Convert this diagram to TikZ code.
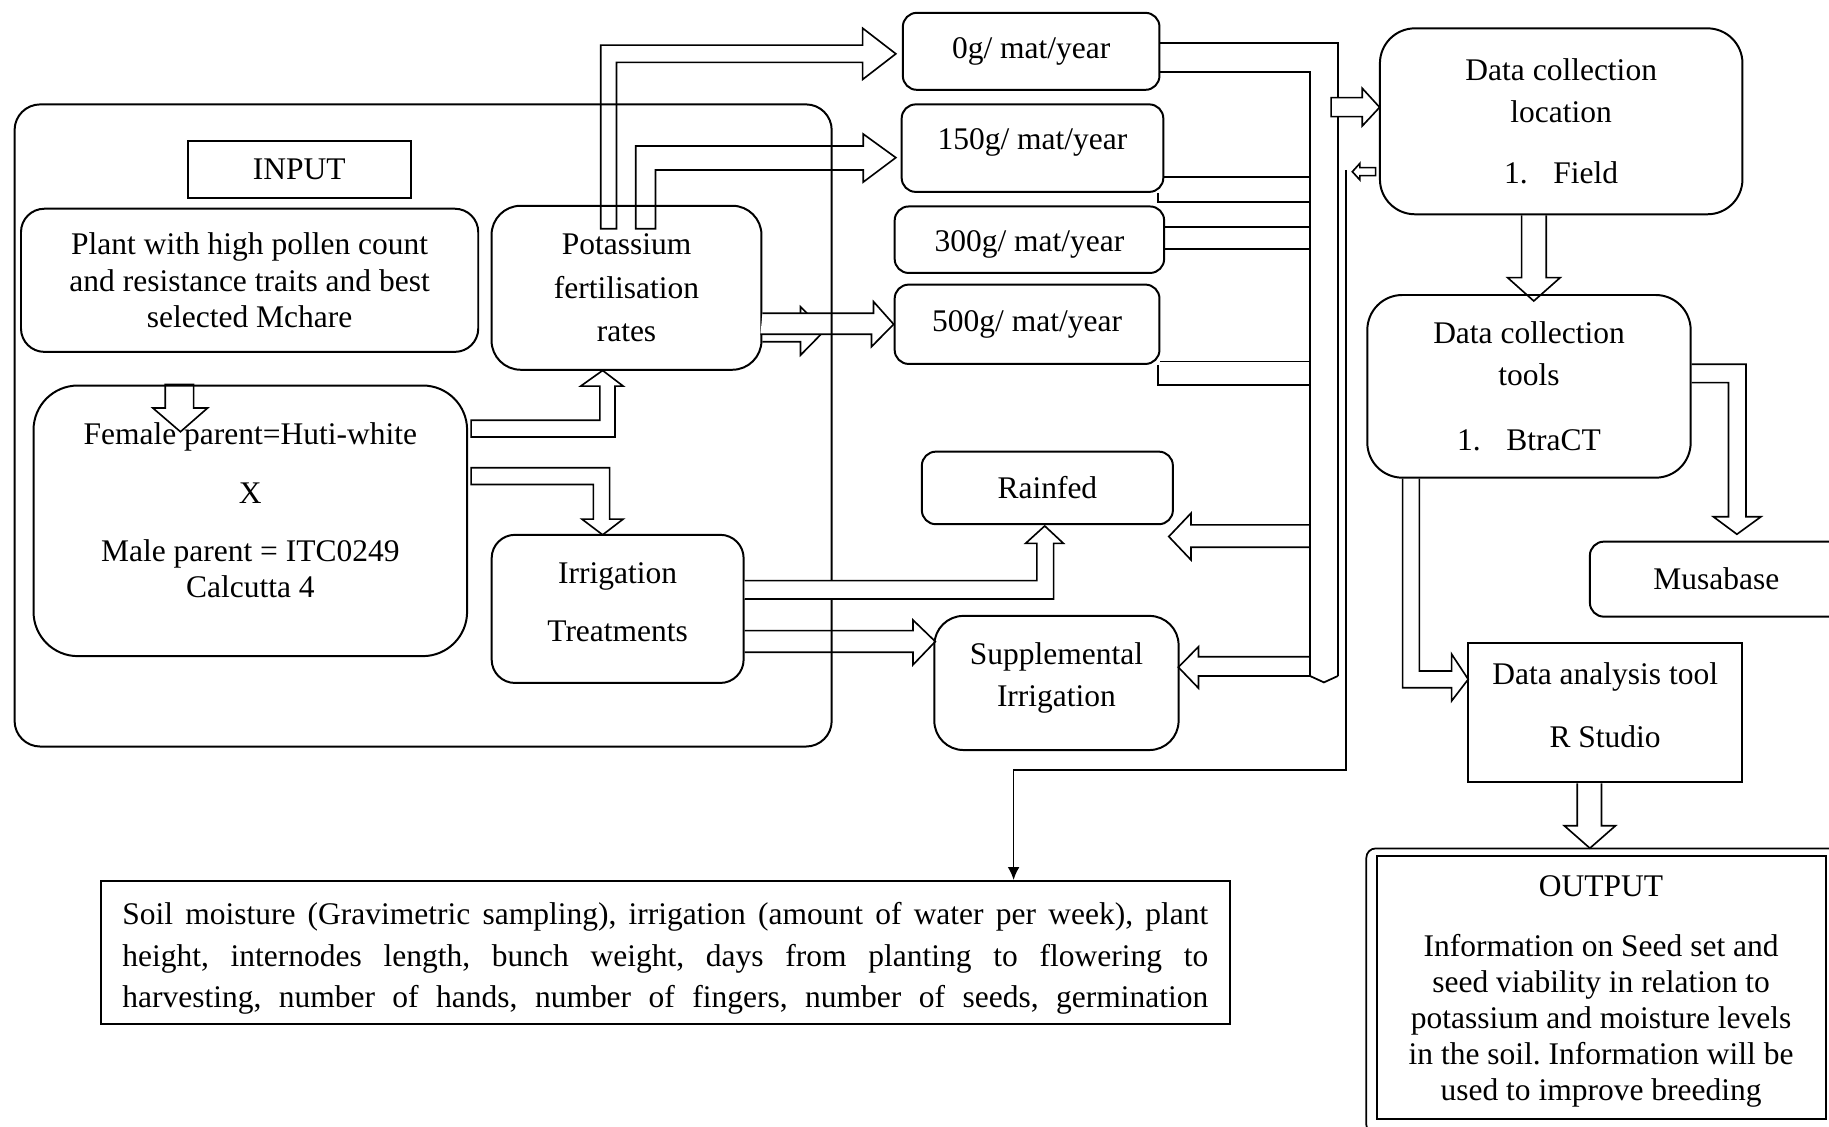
\documentclass[tikz,border=0pt]{standalone}
\usepackage{fontspec}
\setmainfont{Liberation Serif}
\usetikzlibrary{arrows.meta}
\frenchspacing

\begin{document}
\begin{tikzpicture}[x=1pt, y=-1pt,
            box/.style={draw, rounded corners=#1, line width=1.7pt, inner sep=0pt, align=center, font=\fontsize{27}{31}\selectfont},
            box/.default=12pt,
            sqbox/.style={draw, line width=1.7pt, inner sep=0pt, align=center, font=\fontsize{27}{31}\selectfont},
            txt/.style={inner sep=0pt, align=center, font=\fontsize{27}{31}\selectfont},
            blk/.style={line width=1.4pt, line join=miter},
            wire/.style={line width=1.5pt}
        ]
            \useasboundingbox (0,0) rectangle (1568,966);
            \clip (0,0) rectangle (1568,966);

            \node[sqbox, minimum width=191pt, minimum height=49pt] (input) at (256.5,145) {INPUT};
            \node[box=20pt, minimum width=392pt, minimum height=122.7pt] (plant) at (214,240.3) {Plant with high pollen count\\and resistance traits and best\\selected Mchare};
            \node[box=38pt, minimum width=371.7pt, minimum height=232pt] (female) at (214.6,446.5) {};
            \node[txt] (femaletxt) at ([yshift=9pt]female.center) {Female parent=Huti-white\\[19pt]X\\[19pt]Male parent = ITC0249\\Calcutta 4};
            \node[box=25pt, minimum width=231.4pt, minimum height=140.6pt] (pot) at (537.1,246.7) {Potassium\\[6pt]fertilisation\\[6pt]rates};
            \node[box=20pt, minimum width=216pt, minimum height=127pt] (irr) at (529.5,522) {};
            \node[txt] (irrtxt) at ([yshift=6pt]irr.center) {Irrigation\\[19pt]Treatments};

            \node[box, minimum width=220pt, minimum height=66pt] (g0) at (884,44) {0g/ mat/year};
            \node[box, minimum width=224.3pt, minimum height=75pt] (g150) at (885.15,127) {};
            \node[txt] (g150txt) at ([yshift=5pt]g150.center) {150g/ mat/year};
            \node[box, minimum width=231pt, minimum height=57pt] (g300) at (882.5,205.5) {};
            \node[txt] (g300txt) at ([yshift=-4pt]g300.center) {300g/ mat/year};
            \node[box, minimum width=227pt, minimum height=68pt] (g500) at (880.5,278) {500g/ mat/year};
            \node[box, minimum width=215.2pt, minimum height=62.2pt] (rain) at (897.9,418.3) {Rainfed};
            \node[box=25pt, minimum width=209.4pt, minimum height=115pt] (supp) at (905.7,585.5) {};
            \node[txt] (supptxt) at ([yshift=4pt]supp.center) {Supplemental\\[5pt]Irrigation};

            \node[box=30pt, minimum width=310.8pt, minimum height=159.4pt] (dcl) at (1338.4,104) {Data collection\\[5pt]location\\[22pt]1.\hspace{22pt}Field};
            \node[box=30pt, minimum width=277.2pt, minimum height=156.6pt] (dct) at (1310.8,331.2) {Data collection\\[5pt]tools\\[24pt]1.\hspace{22pt}BtraCT};
            \node[box, minimum width=217pt, minimum height=64.3pt] (musa) at (1471.5,496.5) {Musabase};
            \node[sqbox, minimum width=235.4pt, minimum height=119.6pt] (ana) at (1376.1,611) {};
            \node[txt] (anatxt) at ([yshift=6pt]ana.center) {Data analysis tool\\[23pt]R Studio};
            \node[sqbox, minimum width=384.8pt, minimum height=225.8pt] (out) at (1372.6,846.6) {};
            \node[txt] (outtxt) at ([yshift=-3.5pt]out.center) {OUTPUT\\[20pt]Information on Seed set and\\seed viability in relation to\\potassium and moisture levels\\in the soil. Information will be\\used to improve breeding};
            \draw[wire, rounded corners=8pt] ([shift={(-8,-5.5)}]out.north west) rectangle ([shift={(12,12)}]out.south east);
            \node[sqbox, minimum width=968.1pt, minimum height=122.5pt] (soil) at (570.35,816.55) {};
            \node[txt] (soiltxt) at ([yshift=-5pt]soil.center) {\makebox[931pt][s]{Soil moisture (Gravimetric sampling), irrigation (amount of water per week), plant}\\[5pt]\makebox[931pt][s]{height, internodes length, bunch weight, days from planting to flowering to}\\[5pt]\makebox[931pt][s]{harvesting, number of hands, number of fingers, number of seeds, germination}};

            \coordinate (trL) at (1123,579.5);
            \coordinate (trR) at (1147,579.5);

            \draw[blk] ([yshift=-29.3pt]pot.east) -- ++(32.6,0) -- ++(0,-13) -- ++(20.6,20.5) -- ++(-20.6,21) -- ++(0,-11.5) -- ++(-32.6,0);
            \draw[blk, fill=white] ([yshift=-21.9pt]pot.east) -- ++(95.2,0) -- ++(0,-10) -- (g500.west) -- ++(-19,19.2) -- ++(0,-10.6) -- ++(-95.2,0);
            \node[box=22pt, minimum width=700.5pt, minimum height=550.5pt] (inarea) at (362.75,364.75) {};

            \draw[blk] ([shift={(-22.1,20.6)}]pot.north) -- ++(0,-157.5) -- ++(224.5,0) -- ++(0,-14.5) -- ++(28.5,22) -- ++(-28.5,22) -- ++(0,-14.7) -- ++(-211,0) -- ++(0,142.7) -- cycle;
            \draw[blk] ([shift={(7.9,20.6)}]pot.north) -- ++(0,-71) -- ++(195,0) -- ++(0,-10.3) -- ++(28,20.3) -- ++(-28,21) -- ++(0,-10.4) -- ++(-178,0) -- ++(0,50.4) -- cycle;
            \draw[blk] ([xshift=-72.9pt]female.north) -- ++(0,20.1) -- ++(-10.7,0) -- ++(23.7,20.4) -- ++(23.3,-20.4) -- ++(-12,0) -- ++(0,-20.1) -- cycle;
            \draw[blk] ([shift={(2.55,-86.2)}]female.east) -- ++(110.4,0) -- ++(0,-29.3) -- ++(-16.4,0) -- ++(18.8,-13.4) -- ++(17.6,13.4) -- ++(-7,0) -- ++(0,43.6) -- ++(-123.4,0) -- cycle;
            \draw[blk] ([shift={(2.55,-45.5)}]female.east) -- ++(118.8,0) -- ++(0,44) -- ++(11.6,0) -- ++(-17.6,13.5) -- ++(-17.8,-13.5) -- ++(9.8,0) -- ++(0,-29.6) -- ++(-104.8,0) -- cycle;
            \draw[blk, fill=white] ([yshift=24.2pt]irr.east) -- ++(250.5,0) -- ++(0,-32) -- ++(-9.6,0) -- ++(16.4,-14.9) -- ++(16,14.9) -- ++(-8.4,0) -- ++(0,47.7) -- ++(-264.9,0);
            \draw[blk] ([yshift=-18.6pt]irr.east) -- ++(144.3,0) -- ++(0,-9.1) -- ++(19.2,18.5) -- ++(-19.2,20) -- ++(0,-10.8) -- ++(-144.3,0);

            \draw[wire] ([yshift=7.4pt]g0.east) -| (trR);
            \draw[wire] ([yshift=-18pt]g0.east) -| (trL);
            \draw[wire] ([yshift=-25pt]g150.east) -| (trL);
            \draw[wire] ([xshift=-5.7pt]g150.south east) -- ++(0,7.8) -| (trL);
            \draw[wire] ([yshift=11.2pt]g300.east) -| (trL);
            \draw[wire] ([yshift=-8pt]g300.east) -| (trL);
            \draw[wire] ([yshift=-32pt]g500.east) -| (trL);
            \draw[wire] ([xshift=-2pt]g500.south east) -- ++(0,17.5) -| (trL);
            \draw[wire] (trL) -- ++(12,5.5) -- (trR);

            \draw[blk] ([yshift=129.5pt]trL) -- ++(-102,0) -- ++(0,-10) -- ++(-19,20) -- ++(19,20) -- ++(0,-10.8) -- ++(102,0);
            \draw[blk] ([yshift=16.5pt]trL) -- ++(-95.5,0) -- ++(0,-8.6) -- ++(-17.3,17.6) -- ++(17.3,18) -- ++(0,-10.5) -- (trL);
            \draw[blk, fill=white] ([shift={(-41,-20.3)}]dcl.west) -- ++(26.7,0) -- ++(0,-8) -- ++(14.9,16.3) -- ++(-14.9,16) -- ++(0,-8) -- ++(-26.7,0) -- cycle;
            \draw[blk] ([shift={(-2.8,39.7)}]dcl.west) -- ++(-13.5,0) -- ++(0,-3.7) -- ++(-6.5,7.2) -- ++(6.5,7.1) -- ++(0,-3.7) -- ++(13.5,0) -- cycle;
            \draw[blk] ([xshift=-33.9pt]dcl.south) -- ++(0,53.5) -- ++(-12,0) -- ++(22.4,20) -- ++(22.6,-20) -- ++(-11.9,0) -- ++(0,-53.5);
            \draw[blk] ([yshift=18.9pt]dct.east) -- ++(46.6,0) -- ++(0,130.7) -- ++(12.8,0) -- ++(-20.6,15) -- ++(-20.2,-15) -- ++(13,0) -- ++(0,-115) -- ++(-31.6,0);
            \draw[blk] ([xshift=-108.3pt]dct.south) -- ++(0,179.2) -- ++(42,0) -- ++(0,11.3) -- ++(14.2,-18.5) -- ++(-14.2,-21.5) -- ++(0,14.4) -- ++(-27.7,0) -- ++(0,-164.9);
            \draw[blk] ([xshift=-23.9pt]ana.south) -- ++(0,36.2) -- ++(-11.2,0) -- ++(22,19.3) -- ++(22,-19.3) -- ++(-12,0) -- ++(0,-36.2);

            \draw[wire, -{Latex[length=11pt,width=10pt]}] ([shift={(-28,41.7)}]dcl.west) -- ++(0,514.3) -| ([xshift=298.6pt]soil.north);
        \end{tikzpicture}
\end{document}
